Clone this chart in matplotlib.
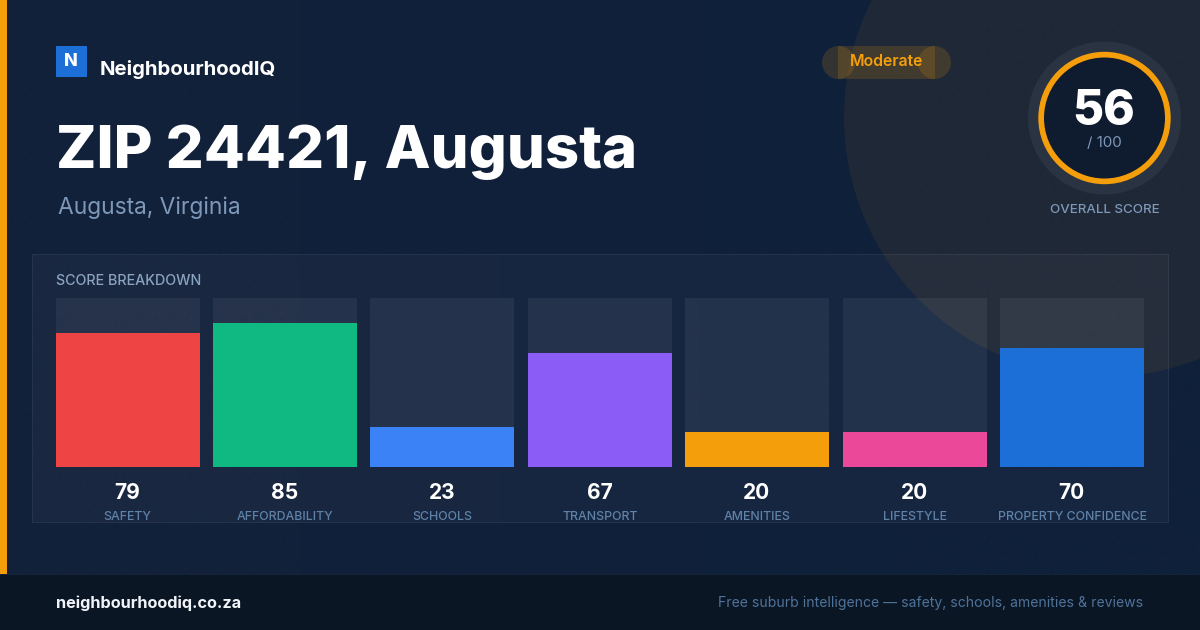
import numpy as np
import matplotlib
matplotlib.use('Agg')
import matplotlib.pyplot as plt
from matplotlib.patches import Circle, Rectangle

plt.rcParams['font.family'] = ['Inter', 'DejaVu Sans']

categories = ['SAFETY', 'AFFORDABILITY', 'SCHOOLS', 'TRANSPORT', 'AMENITIES', 'LIFESTYLE', 'PROPERTY CONFIDENCE']
scores = [79, 85, 23, 67, 20, 20, 70]
colors = ['#ef4444', '#10b981', '#3b82f6', '#8b5cf6', '#f59e0b', '#ec4899', '#1d6fd8']
overall = 56
amber = '#f59e0b'

fig = plt.figure(figsize=(12, 6.3), dpi=100, facecolor='#12213a')

# whole picture in pixel coordinates, y going down
bg = fig.add_axes([0, 0, 1, 1])
bg.axis('off')


def rect(x0, y0, x1, y1, color, alpha=1.0, z=1):
    bg.add_patch(Rectangle((x0, y0), x1 - x0, y1 - y0, facecolor=color, alpha=alpha, zorder=z, linewidth=0))


# background gradient and dot grid
bg.imshow(np.array([[[0x12 / 255, 0x21 / 255, 0x3a / 255], [0x0f / 255, 0x20 / 255, 0x3a / 255]]]),
          extent=(0, 1200, 630, 0), aspect='auto', zorder=0, interpolation='bilinear')
bg.set_xlim(0, 1200)
bg.set_ylim(630, 0)
gx, gy = np.meshgrid(np.arange(24, 1200, 32), np.arange(24, 576, 32))
bg.scatter(gx.ravel(), gy.ravel(), s=2.5, color='#ffffff', alpha=0.025, linewidths=0, zorder=1)

bg.add_patch(Circle((1104, 117), 260, facecolor=amber, alpha=0.07, linewidth=0, zorder=1))

# left stripe and footer
rect(0, 0, 7, 574, amber, z=3)
rect(0, 574, 1200, 630, '#0b1625', z=3)
rect(0, 574, 1200, 575, '#16243a', z=3)

# logo
rect(56, 46, 87, 77, '#1d6fd8', z=3)
bg.text(71.3, 66, 'N', color='white', fontsize=13, fontweight=800, ha='center', va='baseline', zorder=4)
bg.text(100, 75, 'NeighbourhoodIQ', color='white', fontsize=14.65, fontweight='bold', va='baseline', zorder=4)

# title
bg.text(56, 168, 'ZIP 24421, Augusta', color='white', fontsize=43, fontweight=800, va='baseline', zorder=4)
bg.text(58, 214, 'Augusta, Virginia', color='#7d98b8', fontsize=16.4, va='baseline', zorder=4)

# badge
rect(838, 46, 935, 79, amber, alpha=0.16, z=3)
bg.add_patch(Circle((838.5, 62.5), 16.5, facecolor=amber, alpha=0.16, linewidth=0, zorder=3))
bg.add_patch(Circle((934.5, 62.5), 16.5, facecolor=amber, alpha=0.16, linewidth=0, zorder=3))
bg.text(886.5, 66.5, 'Moderate', color=amber, fontsize=11.4, fontweight=600, ha='center', va='baseline', zorder=4)

# overall score ring
bg.add_patch(Circle((1104.5, 118), 76.5, facecolor='#2a3342', linewidth=0, zorder=3))
bg.add_patch(Circle((1104.5, 118), 66.2, facecolor=amber, linewidth=0, zorder=3))
bg.add_patch(Circle((1104.5, 118), 60.5, facecolor='#0f1b2e', linewidth=0, zorder=3))
bg.text(1103.5, 125, str(overall), color='white', fontsize=34.5, fontweight=800, ha='center', va='baseline', zorder=4)
bg.text(1104.5, 147, '/ 100', color='#7d98b8', fontsize=10.9, ha='center', va='baseline', zorder=4)
bg.text(1104.5, 213, 'OVERALL SCORE', color='#7d98b8', fontsize=9.6, fontweight='medium', ha='center', va='baseline', zorder=4)

# breakdown panel
rect(32, 254, 1169, 523, '#ffffff', alpha=0.03, z=2)
rect(32, 254, 1169, 255, '#ffffff', alpha=0.06, z=2)
rect(32, 522, 1169, 523, '#ffffff', alpha=0.06, z=2)
rect(32, 255, 33, 522, '#ffffff', alpha=0.06, z=2)
rect(1168, 255, 1169, 522, '#ffffff', alpha=0.06, z=2)
bg.text(56, 285, 'SCORE BREAKDOWN', color='#8aa3c0', fontsize=10.3, fontweight='medium', va='baseline', zorder=4)

# bars
pitch = 157.45
bar_w = 144 / pitch
first_center = 127.55
ax = fig.add_axes([56 / 1200, (630 - 467) / 630, 1088 / 1200, 169 / 630])
ax.patch.set_alpha(0)
ax.axis('off')
xs = np.arange(len(scores))
ax.bar(xs, [102] * len(scores), bottom=-2, width=bar_w, color='#ffffff', alpha=0.06, linewidth=0)
ax.bar(xs, [s + 2 for s in scores], bottom=-2, width=bar_w, color=colors, linewidth=0)
ax.set_xlim((56 - first_center) / pitch, (1144 - first_center) / pitch)
ax.set_ylim(-0.83, 99.95)

for x, s, c in zip(xs, scores, categories):
    px = 127.6 + x * 157.4
    bg.text(px - 0.3, 499, str(s), color='white', fontsize=15.1, fontweight='bold', ha='center', va='baseline', zorder=4)
    bg.text(px, 520, c, color='#5f82a8', fontsize=8.9, fontweight='medium', ha='center', va='baseline', zorder=4)

# footer text
bg.text(56, 608, 'neighbourhoodiq.co.za', color='#f1f5f9', fontsize=11.7, fontweight='bold', va='baseline', zorder=4)
bg.text(1143, 607, 'Free suburb intelligence — safety, schools, amenities & reviews', color='#4f7299',
        fontsize=10.1, ha='right', va='baseline', zorder=4)

fig.savefig('out.png', dpi=100, facecolor=fig.get_facecolor())
